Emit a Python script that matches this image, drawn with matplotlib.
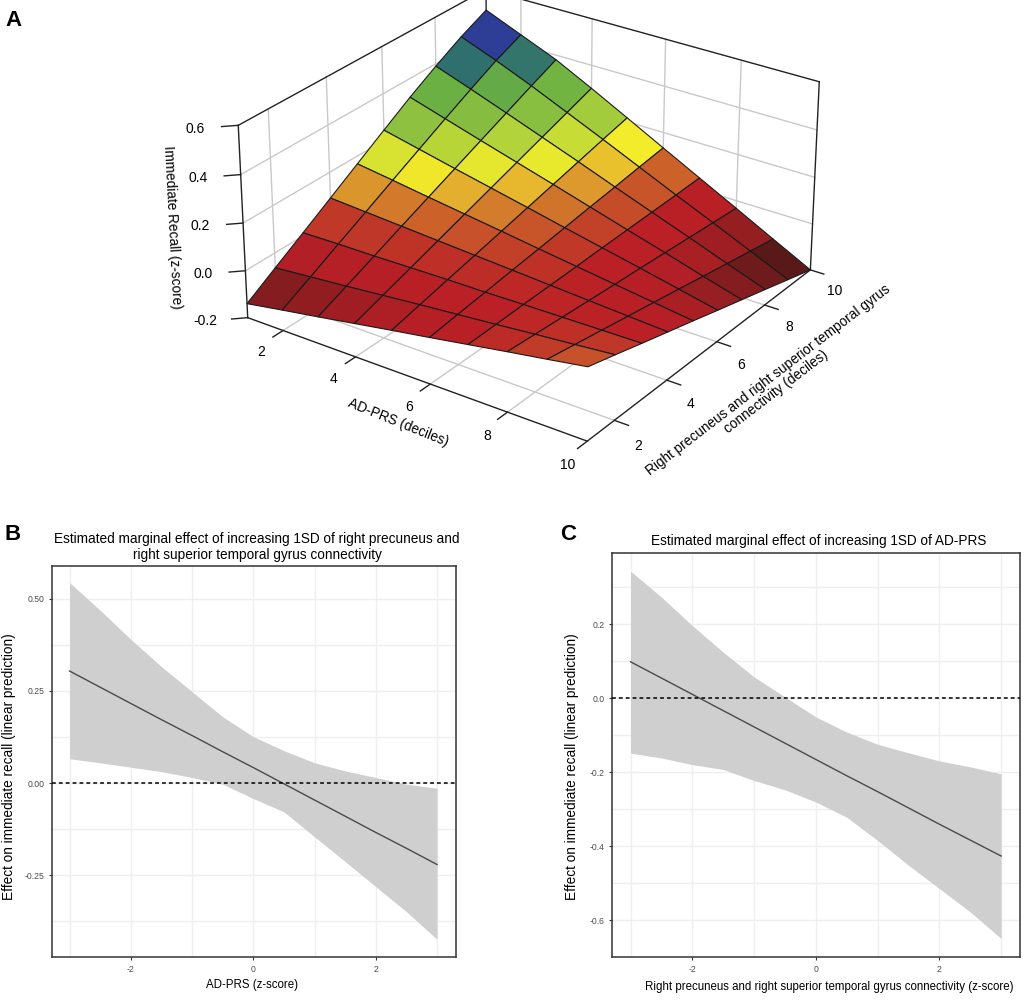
import numpy as np
import matplotlib
matplotlib.use("Agg")
import matplotlib.pyplot as plt
from matplotlib.colors import LinearSegmentedColormap

plt.rcParams['font.family'] = ['Liberation Sans', 'DejaVu Sans']

# panel A: surface
deciles = [1, 2, 3, 4, 5, 6, 7, 8, 9, 10]
recall = [
    [-.14, -.113, -.087, -.06, -.033, -.007, .02, .047, .073, .10],
    [-.063, -.049, -.035, -.02, -.005, .009, .023, .038, .052, .067],
    [.013, .016, .017, .02, .023, .024, .027, .029, .031, .033],
    [.09, .08, .07, .06, .05, .04, .03, .02, .01, 0],
    [.167, .145, .122, .10, .078, .055, .033, .011, -.011, -.033],
    [.244, .209, .174, .14, .106, .071, .037, .003, -.032, -.067],
    [.32, .273, .226, .18, .134, .087, .04, -.006, -.054, -.10],
    [.39, .335, .278, .22, .162, .102, .043, -.015, -.075, -.133],
    [.455, .395, .33, .26, .19, .118, .046, -.024, -.096, -.167],
    [.51, .445, .38, .30, .217, .133, .05, -.033, -.117, -.2],
]
niveles = [-.16, -.14, -.10, -.06, -.02, .02, .05, .08, .11, .135, .165, .20, .26, .33, .365, .395, .425, .445]
colores = ["#4f1616", "#5e1a1a", "#7f1c1f", "#9a1e22", "#b41f26", "#bb2026", "#c03a28", "#c9582a", "#d5832c",
           "#e5b02e", "#f2ec2a", "#cfe034", "#8fc23f", "#6cb142", "#3f8a5c", "#2f6f6e", "#2c6278", "#2e3d95"]
ticks_dec = [2, 4, 6, 8, 10]
ticks_z = [-0.2, 0.0, 0.2, 0.4, 0.6]

# panel B
xb = [-3, -2.5, -2, -1.5, -1, -.5, 0, .5, 1, 1.5, 2, 2.5, 3]
sup_b = [.544, .469, .39, .316, .248, .18, .126, .088, .055, .033, .015, -.003, -.014]
inf_b = [.066, .055, .043, .031, .015, -.003, -.042, -.078, -.146, -.213, -.281, -.349, -.424]
linea_b = [.304, .260, .216, .172, .129, .085, .042, -.002, -.046, -.090, -.134, -.177, -.221]

# panel C
sup_c = [.343, .273, .196, .124, .057, .003, -.051, -.092, -.125, -.148, -.170, -.186, -.205]
inf_c = [-.149, -.162, -.18, -.193, -.223, -.248, -.281, -.322, -.385, -.452, -.515, -.578, -.65]
linea_c = [.098, .054, .010, -.034, -.078, -.122, -.166, -.210, -.253, -.297, -.341, -.384, -.427]

W, H = 1024, 1000
fig = plt.figure(figsize=(W / 100, H / 100), dpi=100)


def rect_px(x0, y0, x1, y1):
    return [x0 / W, 1 - y1 / H, (x1 - x0) / W, (y1 - y0) / H]


def texto_px(x, y, s, **kw):
    fig.text(x / W, 1 - y / H, s, ha=kw.pop('ha', 'center'), va=kw.pop('va', 'center'), **kw)


# ---- panel A
ax = fig.add_axes(rect_px(71, -238, 971, 662), projection='3d', computed_zorder=False)
ax.set_proj_type('persp', focal_length=0.62)
ax.view_init(elev=27, azim=-55)
ax.set_box_aspect((1, 1, 0.52), zoom=0.667)
ax.set_axis_off()
ax.patch.set_alpha(0)
ax.set_xlim(1, 10)
ax.set_ylim(1, 10)
ax.set_zlim(-0.2, 0.6)
ax.set_xticks([])
ax.set_yticks([])
ax.set_zticks([])

X, Y = np.meshgrid(deciles, deciles)
Z = np.array(recall)
medias = (Z[:-1, :-1] + Z[1:, :-1] + Z[:-1, 1:] + Z[1:, 1:]) / 4
nodos = [(n - niveles[0]) / (niveles[-1] - niveles[0]) for n in niveles]
paleta = LinearSegmentedColormap.from_list("recall", list(zip(nodos, colores)))
caras = paleta((medias - niveles[0]) / (niveles[-1] - niveles[0]))

gris = "#c9c9c9"
for d in ticks_dec[:-1]:
    ax.plot([d, d], [1, 10], [-.2, -.2], color=gris, lw=1, zorder=1)
    ax.plot([1, 10], [d, d], [-.2, -.2], color=gris, lw=1, zorder=1)
    ax.plot([1, 1], [d, d], [-.2, .6], color=gris, lw=1, zorder=1)
    ax.plot([d, d], [10, 10], [-.2, .6], color=gris, lw=1, zorder=1)
for z in ticks_z[1:-1]:
    ax.plot([1, 1], [1, 10], [z, z], color=gris, lw=1, zorder=1)
    ax.plot([1, 10], [10, 10], [z, z], color=gris, lw=1, zorder=1)

negro = "#222222"
aristas = [([1, 10], [1, 1], [-.2, -.2]), ([10, 10], [1, 10], [-.2, -.2]),
           ([1, 1], [1, 1], [-.2, .6]), ([10, 10], [10, 10], [-.2, .6]),
           ([1, 1], [10, 10], [-.2, .6]), ([1, 1], [1, 10], [.6, .6]),
           ([1, 10], [10, 10], [.6, .6])]
for xs, ys, zs in aristas:
    ax.plot(xs, ys, zs, color=negro, lw=1, zorder=1.5)

ax.plot_surface(X, Y, Z, facecolors=caras, rstride=1, cstride=1, shade=False,
                edgecolor="#1a1a1a", linewidth=0.8, zorder=2)

for d in ticks_dec:
    ax.plot([d, d], [1, 0.65], [-.2, -.2], color=negro, lw=1, zorder=1.5)
    ax.text(d + .2, 0.0, -.2, str(d), ha='center', va='center', fontsize=10, zorder=3)
    ax.plot([10, 10.35], [d, d], [-.2, -.2], color=negro, lw=1, zorder=1.5)
    ax.text(10.95, d - .55, -.2, str(d), ha='center', va='center', fontsize=10, zorder=3)
for z in ticks_z:
    ax.plot([1, 0.75], [1, 0.75], [z, z], color=negro, lw=1, zorder=1.5)
    ax.text(0.35, 0.35, z, f"{z:.1f}", ha='center', va='center', fontsize=10, zorder=3)

texto_px(398, 423, "AD-PRS (deciles)", rotation=-22, fontsize=9.8)
texto_px(172, 227, "Immediate Recall (z-score)", rotation=-87, fontsize=9.8)
texto_px(772, 386, "Right precuneus and right superior temporal gyrus\nconnectivity (deciles)",
         rotation=37.5, fontsize=9.8, linespacing=1.0)


# ---- paneles B y C
def panel(caja, xlim, ylim, yticks, yetiq, ymenor, sup, inf, linea):
    a = fig.add_axes(rect_px(*caja))
    a.set_xlim(xlim)
    a.set_ylim(ylim)
    a.set_axisbelow(True)
    a.set_xticks([-2, 0, 2])
    a.set_xticklabels(["-2", "0", "2"])
    a.set_xticks([-3, -1, 1, 3], minor=True)
    a.set_yticks(yticks)
    a.set_yticklabels(yetiq)
    a.set_yticks(ymenor, minor=True)
    a.grid(True, which='both', color="#efefef", lw=1.0)
    a.tick_params(which='minor', length=0)
    a.tick_params(which='major', length=2.5, width=0.8, color="#333333", labelsize=6.2, labelcolor="#4d4d4d", pad=3)
    a.fill_between(xb, inf, sup, color="#cfcfcf", lw=0, zorder=2)
    a.plot(xb, linea, color="#4a4a4a", lw=1, zorder=3)
    a.axhline(0, color="black", lw=1.1, ls=(0, (2.5, 2)), zorder=4)
    for s in a.spines.values():
        s.set_color("#333333")
        s.set_linewidth(1.1)
    return a


panel((52, 566, 456, 957), (-3.287, 3.31), (-.472, .589), [-.25, 0, .25, .5],
      ["-0.25", "0.00", "0.25", "0.50"], [-.375, -.125, .125, .375], sup_b, inf_b, linea_b)
panel((612, 553, 1020, 957), (-3.30, 3.306), (-.70, .392), [-.6, -.4, -.2, 0, .2],
      ["-0.6", "-0.4", "-0.2", "0.0", "0.2"], [-.5, -.3, -.1, .1, .3], sup_c, inf_c, linea_c)

texto_px(257, 547, "Estimated marginal effect of increasing 1SD of right precuneus and\nright superior temporal gyrus connectivity",
         fontsize=9.8, linespacing=1.15)
texto_px(819, 541, "Estimated marginal effect of increasing 1SD of AD-PRS", fontsize=9.8)
texto_px(252, 985, "AD-PRS (z-score)", fontsize=8.3)
texto_px(829, 987, "Right precuneus and right superior temporal gyrus connectivity (z-score)", fontsize=8.3)
texto_px(9, 767, "Effect on immediate recall (linear prediction)", rotation=90, fontsize=9.8)
texto_px(572, 767, "Effect on immediate recall (linear prediction)", rotation=90, fontsize=9.8)

texto_px(14, 20, "A", fontsize=16, fontweight='bold')
texto_px(13, 535, "B", fontsize=16, fontweight='bold')
texto_px(568, 535, "C", fontsize=16, fontweight='bold')

fig.savefig("out.png", dpi=100)
